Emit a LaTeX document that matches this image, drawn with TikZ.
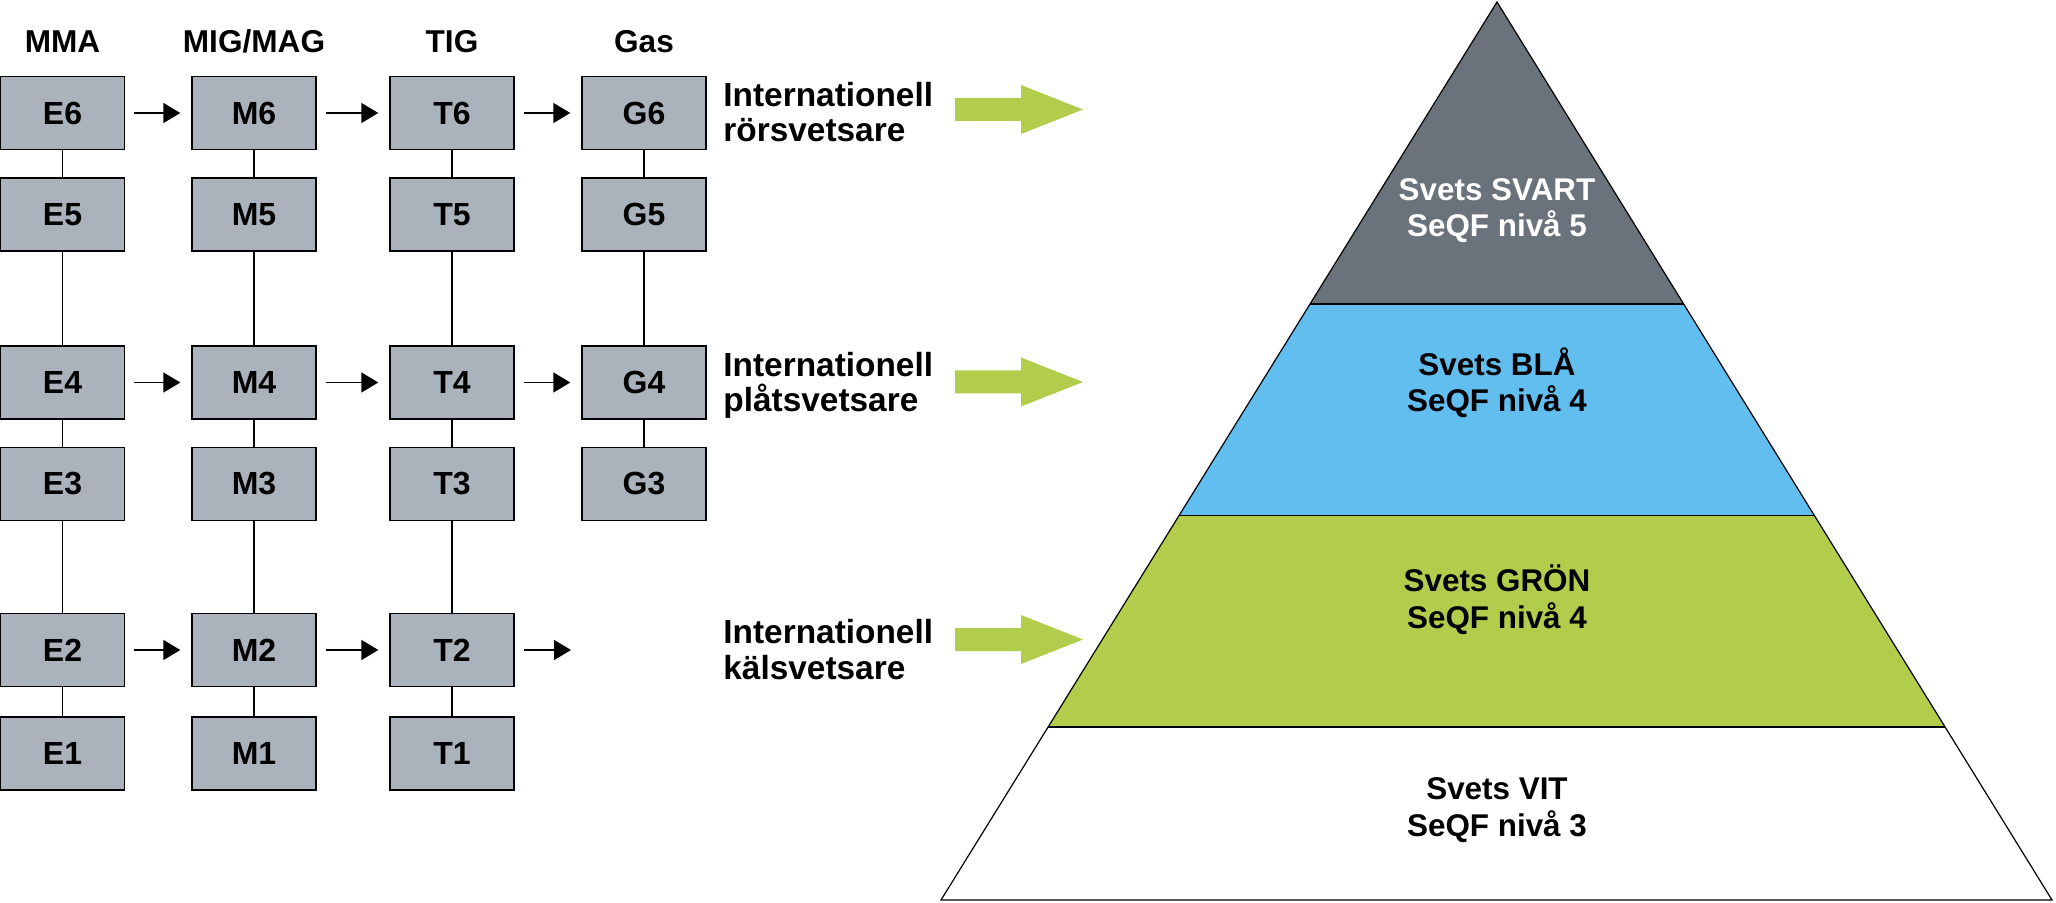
\documentclass[tikz,border=0pt]{standalone}
\usepackage{fontspec}
\setmainfont{Liberation Sans}
\usetikzlibrary{arrows.meta,calc}
\definecolor{boxgray}{HTML}{AAB3BB}
\definecolor{svart}{HTML}{6A727B}
\definecolor{bla}{HTML}{63BEF0}
\definecolor{gron}{HTML}{B2CD4B}

\begin{document}
\begin{tikzpicture}[x=0.5pt,y=-0.5pt,
    level/.style={draw, line width=0.7pt, fill=boxgray, minimum width=62pt, minimum height=36.5pt, inner sep=0pt, font=\bfseries\fontsize{16}{19}\selectfont},
    head/.style={anchor=base, inner sep=0pt, font=\bfseries\fontsize{15.8}{19}\selectfont},
    link/.style={line width=0.7pt},
    flow/.style={line width=0.7pt, -{Triangle[length=8.5pt,width=10pt]}, shorten <=4.5pt, shorten >=5.5pt},
    note/.style={anchor=base west, align=left, inner sep=0pt, font=\bfseries\fontsize{16.7}{17.75}\selectfont},
    tier/.style={anchor=base, align=center, inner sep=0pt, font=\bfseries\fontsize{15.7}{18.25}\selectfont}]
    \useasboundingbox (0,0) rectangle (2056,903);

    % column heads
    \node[head] (hE) at (62.5,53) {MMA};
    \node[head] (hM) at (254,53) {MIG/MAG};
    \node[head] (hT) at (452,53) {TIG};
    \node[head] (hG) at (644,53) {Gas};

    % levels
    \node[level] (E6) at (62.5,113) {E6};
    \node[level] (E5) at (62.5,214.5) {E5};
    \node[level] (E4) at (62.5,382.5) {E4};
    \node[level] (E3) at (62.5,484) {E3};
    \node[level] (E2) at (62.5,650) {E2};
    \node[level] (E1) at (62.5,753.5) {E1};
    \node[level] (M6) at (254,113) {M6};
    \node[level] (M5) at (254,214.5) {M5};
    \node[level] (M4) at (254,382.5) {M4};
    \node[level] (M3) at (254,484) {M3};
    \node[level] (M2) at (254,650) {M2};
    \node[level] (M1) at (254,753.5) {M1};
    \node[level] (T6) at (452,113) {T6};
    \node[level] (T5) at (452,214.5) {T5};
    \node[level] (T4) at (452,382.5) {T4};
    \node[level] (T3) at (452,484) {T3};
    \node[level] (T2) at (452,650) {T2};
    \node[level] (T1) at (452,753.5) {T1};
    \node[level] (G6) at (644,113) {G6};
    \node[level] (G5) at (644,214.5) {G5};
    \node[level] (G4) at (644,382.5) {G4};
    \node[level] (G3) at (644,484) {G3};
    \coordinate (G2) at (582,650);

    \draw[link] (E6) -- (E5) -- (E4) -- (E3) -- (E2) -- (E1);
    \draw[link] (M6) -- (M5) -- (M4) -- (M3) -- (M2) -- (M1);
    \draw[link] (T6) -- (T5) -- (T4) -- (T3) -- (T2) -- (T1);
    \draw[link] (G6) -- (G5) -- (G4) -- (G3);

    \draw[flow] (E6) -- (M6);
    \draw[flow] (M6) -- (T6);
    \draw[flow] (T6) -- (G6);
    \draw[flow] (E4) -- (M4);
    \draw[flow] (M4) -- (T4);
    \draw[flow] (T4) -- (G4);
    \draw[flow] (E2) -- (M2);
    \draw[flow] (M2) -- (T2);
    \draw[flow] (T2) -- (G2);

    % international certificates
    \node[note] (ror) at (723,142) {Internationell\\rörsvetsare};
    \node[note] (plat) at (723,412) {Internationell\\plåtsvetsare};
    \node[note] (kal) at (723,679) {Internationell\\kälsvetsare};

    \foreach \y in {109.5,382,639.5}
        \fill[gron] (955,\y-11.5) -- (1021,\y-11.5) -- (1021,\y-24.5) -- (1083,\y)
            -- (1021,\y+24.5) -- (1021,\y+11.5) -- (955,\y+11.5) -- cycle;

    % pyramid
    \coordinate (apex) at (1497,2);
    \coordinate (bl) at (941,900);
    \coordinate (br) at (2052,900);
    \coordinate (l1) at ($(apex)!0.3363!(bl)$);
    \coordinate (r1) at ($(apex)!0.3363!(br)$);
    \coordinate (l2) at ($(apex)!0.5718!(bl)$);
    \coordinate (r2) at ($(apex)!0.5718!(br)$);
    \coordinate (l3) at ($(apex)!0.8073!(bl)$);
    \coordinate (r3) at ($(apex)!0.8073!(br)$);

    \fill[svart] (apex) -- (r1) -- (l1) -- cycle;
    \fill[bla] (l1) -- (r1) -- (r2) -- (l2) -- cycle;
    \fill[gron] (l2) -- (r2) -- (r3) -- (l3) -- cycle;
    \fill[white] (l3) -- (r3) -- (br) -- (bl) -- cycle;
    \draw[line width=0.9pt] (l1) -- (r1) (l2) -- (r2) (l3) -- (r3);
    \draw[line width=0.6pt, line join=miter] (apex) -- (br) -- (bl) -- cycle;

    \node[tier, white] (svart) at (1497,237) {Svets SVART\\SeQF nivå 5};
    \node[tier] (blaa) at (1497,412) {Svets BLÅ\\SeQF nivå 4};
    \node[tier] (groen) at (1497,628) {Svets GRÖN\\SeQF nivå 4};
    \node[tier] (vit) at (1497,836) {Svets VIT\\SeQF nivå 3};
\end{tikzpicture}
\end{document}
